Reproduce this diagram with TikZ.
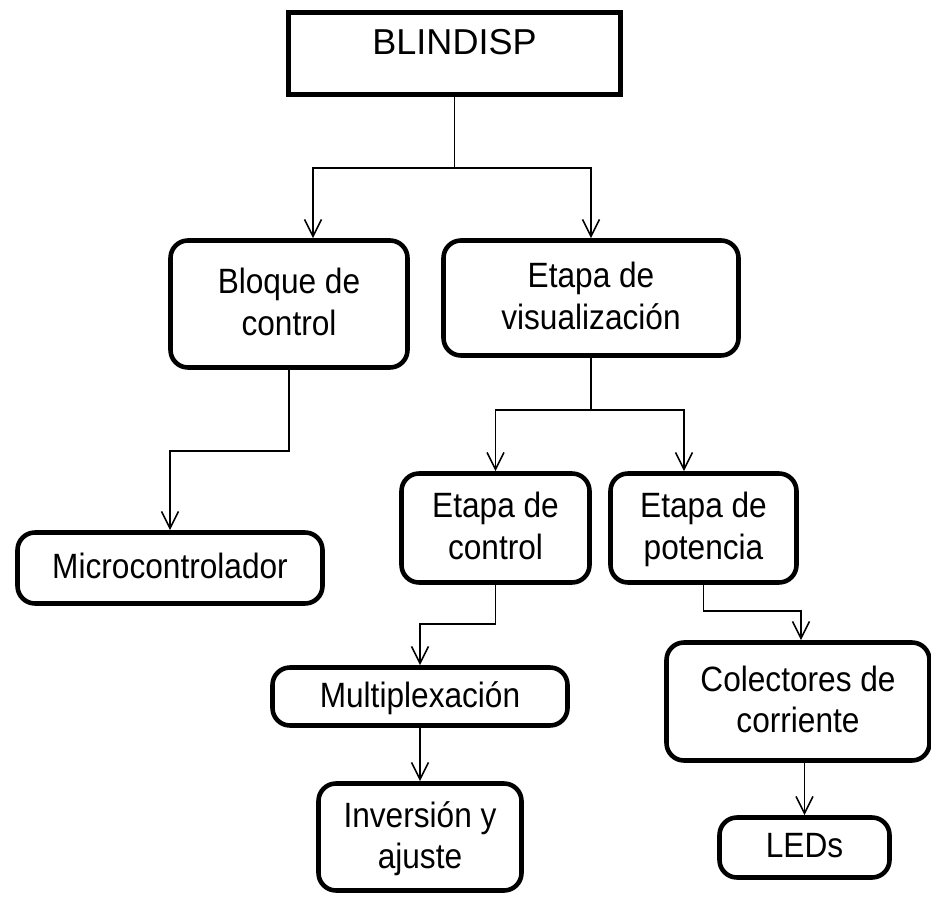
\documentclass[tikz,border=0pt]{standalone}
\usepackage{fontspec}
\setmainfont{Liberation Sans}
\newfontfamily\estrecha[FakeStretch=0.9]{Liberation Sans}
\usetikzlibrary{arrows.meta,positioning}

\begin{document}
\begin{tikzpicture}[
    caja/.style={draw, line width=2.6pt, rounded corners=0.35cm, align=center,
        text depth=0.25em, font=\estrecha\fontsize{20}{23.5}\selectfont},
    enlace/.style={line width=0.9pt, -{Straight Barb[length=3.4mm,width=3.4mm,line width=0.9pt]}}
    ]
    \useasboundingbox (0,0) rectangle (18.62,17.92);
    % bloque principal
    \node[draw, line width=2.6pt, minimum width=6.64cm, minimum height=1.64cm,
        text height=0.5cm, text depth=0.44cm,
        font=\fontsize{20.5}{24}\selectfont] (blindisp) at (9.09,16.85) {BLINDISP};
    % primer nivel
    \node[caja, minimum width=4.74cm, minimum height=2.54cm] (bloque) at (5.78,11.84) {Bloque de\\control};
    \node[caja, minimum width=5.9cm, minimum height=2.3cm] (visual) at (11.82,11.96) {Etapa de\\visualizaci\'on};
    % segundo nivel
    \node[caja, minimum width=6.1cm, minimum height=1.42cm] (micro) at (3.40,6.56) {Microcontrolador};
    \node[caja, minimum width=3.76cm, minimum height=2.18cm] (econtrol) at (9.91,7.36) {Etapa de\\control};
    \node[caja, minimum width=3.72cm, minimum height=2.18cm] (epotencia) at (14.07,7.36) {Etapa de\\potencia};
    % tercer nivel
    \node[caja, minimum width=5.9cm, minimum height=1.16cm] (multiplex) at (8.40,3.99) {Multiplexaci\'on};
    \node[caja, minimum width=5.26cm, minimum height=2.36cm] (colectores) at (15.96,3.89) {Colectores de\\corriente};
    \node[caja, minimum width=4.06cm, minimum height=2.14cm] (inversion) at (8.40,1.18) {Inversi\'on y\\ajuste};
    \node[caja, minimum width=3.4cm, minimum height=1.2cm] (leds) at (16.09,0.97) {LEDs};

    % conexiones
    \coordinate[below=1.42 of blindisp.south] (r1);
    \draw[line width=0.9pt] (blindisp.south) -- (r1);
    \draw[enlace] (r1) -| ([xshift=0.48cm]bloque.north);
    \draw[enlace] (r1) -| (visual.north);
    \draw[enlace] (bloque.south) -- ++(0,-1.62) -| (micro.north);
    \coordinate[below=1.04 of visual.south] (r2);
    \draw[line width=0.9pt] (visual.south) -- (r2);
    \draw[enlace] (r2) -| (econtrol.north);
    \draw[enlace] (r2) -| ([xshift=-0.39cm]epotencia.north);
    \draw[enlace] (econtrol.south) -- ++(0,-0.78) -| (multiplex.north);
    \draw[enlace] (epotencia.south) -- ++(0,-0.52) -| ([xshift=0.06cm]colectores.north);
    \draw[enlace] (multiplex.south) -- (inversion.north);
    \draw[enlace] (leds.north |- colectores.south) -- (leds.north);
\end{tikzpicture}
\end{document}
